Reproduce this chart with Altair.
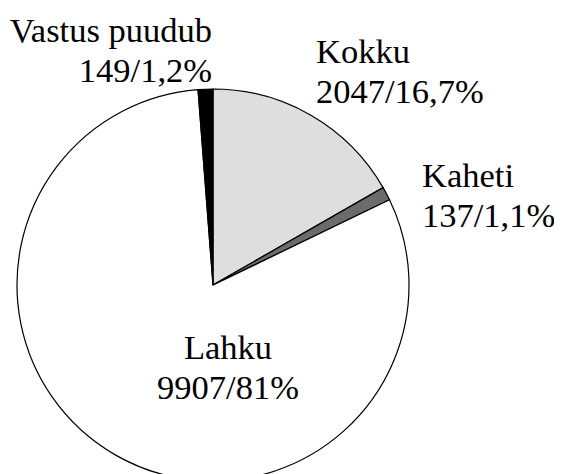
import altair as alt
import pandas as pd

# Data
categories = ["Kokku", "Kaheti", "Lahku", "Vastus puudub"]
counts = [2047, 137, 9907, 149]
percents = ["16,7%", "1,1%", "81%", "1,2%"]
colors = ["#dedede", "#6b6b6b", "#ffffff", "#000000"]

df = pd.DataFrame({
    "cat": categories,
    "count": counts,
    "pct": percents,
    "order": list(range(len(categories))),
})
df["line1"] = df["cat"]
df["line2"] = df["count"].astype(str) + "/" + df["pct"]

# Layout (plot coordinates, origin at page (8,8))
CX, CY, R = 205, 277, 196
label_pos = {
    "Kokku": (308, 55, "left"),
    "Kaheti": (414, 179, "left"),
    "Lahku": (220, 351, "center"),
    "Vastus puudub": (204, 34, "right"),
}
df["lx"] = [label_pos[c][0] for c in df["cat"]]
df["ly"] = [label_pos[c][1] for c in df["cat"]]
df["al"] = [label_pos[c][2] for c in df["cat"]]

FONT = "Liberation Serif"
FS = 34.5
LH = 40

pie = alt.Chart(df).mark_arc(stroke="black", strokeWidth=1.2, radius=R).encode(
    theta=alt.Theta("count:Q", stack=True),
    order=alt.Order("order:Q"),
    color=alt.Color("cat:N", scale=alt.Scale(domain=categories, range=colors), legend=None),
    x=alt.value(CX),
    y=alt.value(CY),
)

layers = [pie]
for align in ["left", "center", "right"]:
    sub = df[df["al"] == align]
    base = alt.Chart(sub)
    t1 = base.mark_text(font=FONT, fontSize=FS, align=align, baseline="alphabetic", color="black").encode(
        x=alt.X("lx:Q", scale=None), y=alt.Y("ly:Q", scale=None), text="line1:N"
    )
    t2 = base.mark_text(font=FONT, fontSize=FS, align=align, baseline="alphabetic", color="black", dy=LH).encode(
        x=alt.X("lx:Q", scale=None), y=alt.Y("ly:Q", scale=None), text="line2:N"
    )
    layers += [t1, t2]

chart = alt.layer(*layers).properties(
    width=546, height=466, autosize="none", padding=0
).configure_view(stroke=None)

chart.save("out.html", embed_options={"renderer": "svg", "actions": False})
